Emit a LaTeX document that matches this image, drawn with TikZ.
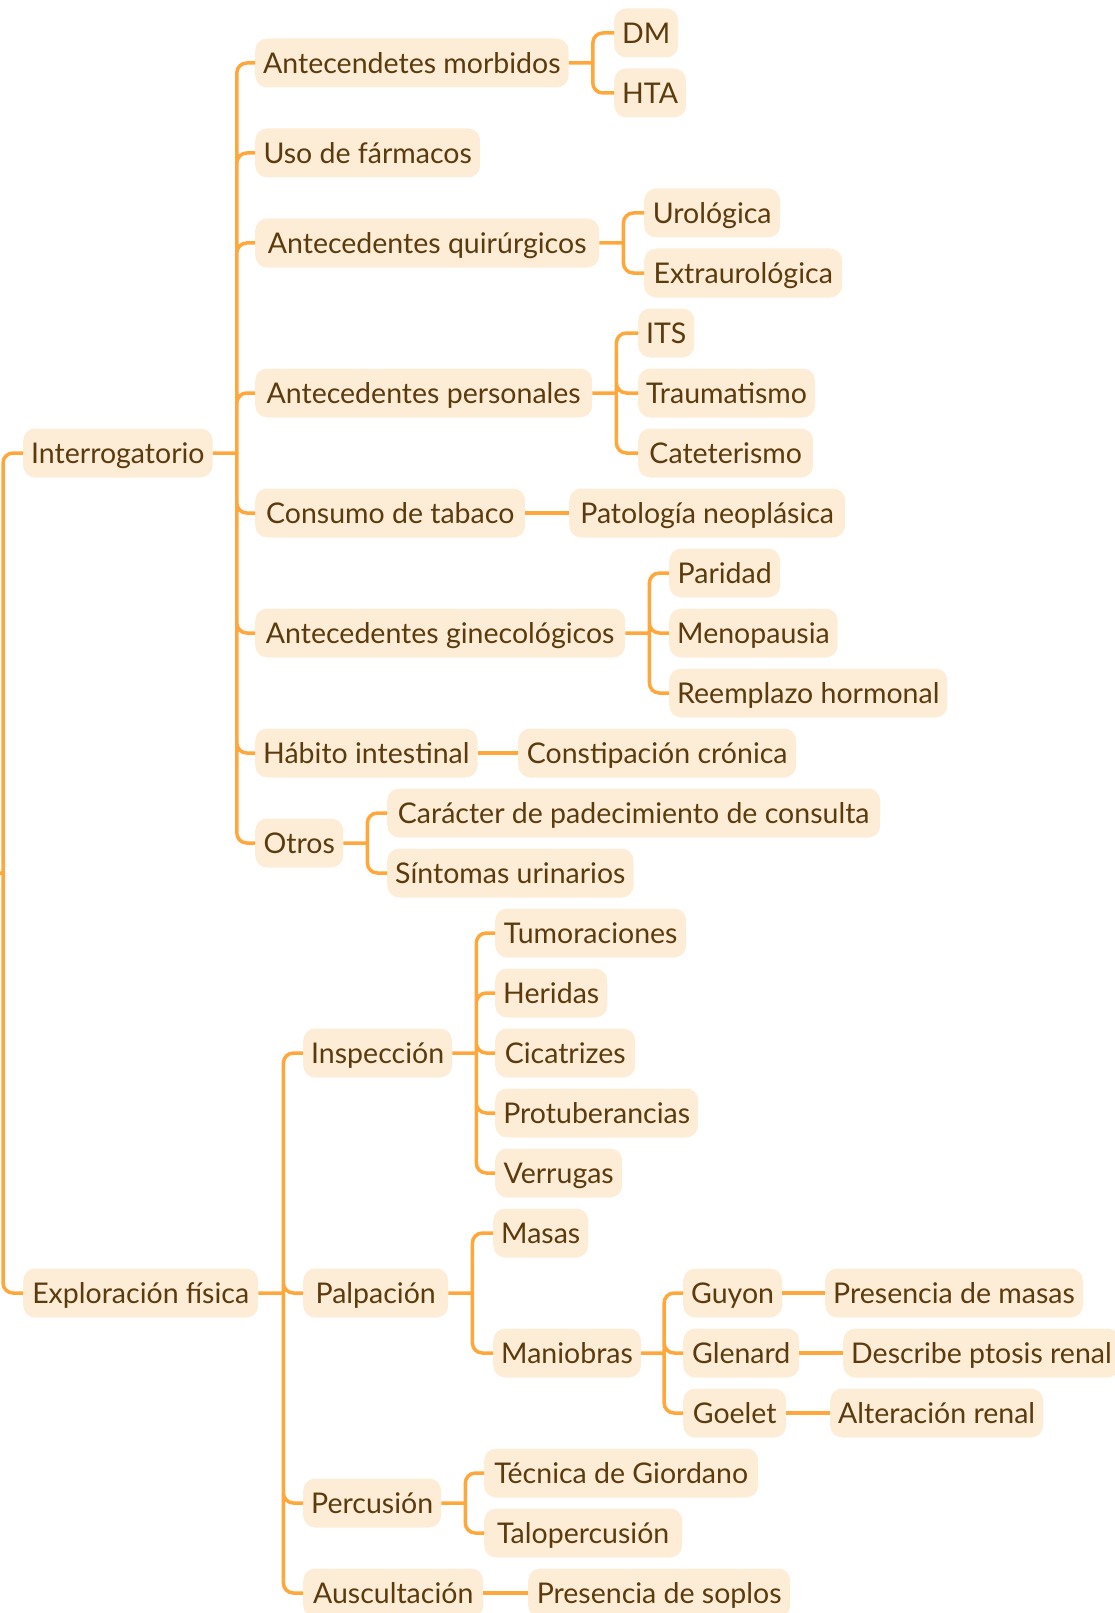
\documentclass[tikz,border=0pt]{standalone}
\usepackage{fontspec}
\setmainfont{Lato}
\definecolor{mapline}{HTML}{FFA73A}
\definecolor{mapfill}{HTML}{FDEDD6}
\definecolor{maptext}{HTML}{5C3A0C}

\begin{document}
\begin{tikzpicture}[x=1pt, y=-1pt,
  topic/.style={anchor=west, fill=mapfill, text=maptext, rounded corners=12pt, minimum height=49pt, inner xsep=8pt, text height=20.5pt, text depth=0pt, font=\fontsize{28.5}{34}\selectfont},
  link/.style={draw=mapline, line width=3.5pt, rounded corners=10pt}]
\useasboundingbox (0,0) rectangle (1114,1613);

\node (int) at (23,453) [topic, minimum width=188pt] {Interrogatorio};
\node (exp) at (23,1293) [topic, minimum width=235pt] {Exploración física};

\node (am) at (255,63) [topic, minimum width=313pt] {Antecendetes morbidos};
\node (dm) at (614,33) [topic, minimum width=57pt] {DM};
\node (hta) at (614,93) [topic, minimum width=66pt] {HTA};
\node (far) at (255,153) [topic, minimum width=225pt] {Uso de fármacos};
\node (aq) at (255,243) [topic, minimum width=344pt] {Antecedentes quirúrgicos};
\node (uro) at (644,213) [topic, minimum width=136pt] {Urológica};
\node (extra) at (644,273) [topic, minimum width=198pt] {Extraurológica};
\node (ap) at (255,393) [topic, minimum width=337pt] {Antecedentes personales};
\node (its) at (638,333) [topic, minimum width=52pt] {ITS};
\node (trau) at (638,393) [topic, minimum width=176pt] {Traumatismo};
\node (cat) at (638,453) [topic, minimum width=175pt] {Cateterismo};
\node (tab) at (255,513) [topic, minimum width=270pt] {Consumo de tabaco};
\node (neo) at (569,513) [topic, minimum width=276pt] {Patología neoplásica};
\node (ag) at (255,633) [topic, minimum width=370pt] {Antecedentes ginecológicos};
\node (par) at (669,573) [topic, minimum width=111pt] {Paridad};
\node (meno) at (669,633) [topic, minimum width=164pt] {Menopausia};
\node (reem) at (669,693) [topic, minimum width=277pt] {Reemplazo hormonal};
\node (hab) at (255,753) [topic, minimum width=217pt] {Hábito intestinal};
\node (cons) at (518,753) [topic, minimum width=278pt] {Constipación crónica};
\node (otr) at (255,843) [topic, minimum width=88pt] {Otros};
\node (car) at (387,813) [topic, minimum width=493pt] {Carácter de padecimiento de consulta};
\node (sint) at (387,873) [topic, minimum width=241pt] {Síntomas urinarios};

\node (insp) at (303,1053) [topic, minimum width=146pt] {Inspección};
\node (tum) at (495,933) [topic, minimum width=191pt] {Tumoraciones};
\node (her) at (495,993) [topic, minimum width=110pt] {Heridas};
\node (cic) at (495,1053) [topic, minimum width=140pt] {Cicatrizes};
\node (prot) at (495,1113) [topic, minimum width=203pt] {Protuberancias};
\node (ver) at (495,1173) [topic, minimum width=127pt] {Verrugas};
\node (palp) at (303,1293) [topic, minimum width=145pt] {Palpación};
\node (mas) at (493,1233) [topic, minimum width=93pt] {Masas};
\node (man) at (493,1353) [topic, minimum width=145pt] {Maniobras};
\node (guy) at (683,1293) [topic, minimum width=97pt] {Guyon};
\node (pmas) at (825,1293) [topic, minimum width=257pt] {Presencia de masas};
\node (gle) at (683,1353) [topic, minimum width=116pt] {Glenard};
\node (ptos) at (843,1353) [topic, minimum width=271pt] {Describe ptosis renal};
\node (goe) at (683,1413) [topic, minimum width=103pt] {Goelet};
\node (alt) at (830,1413) [topic, minimum width=212pt] {Alteración renal};
\node (perc) at (303,1503) [topic, minimum width=137pt] {Percusión};
\node (gio) at (484,1473) [topic, minimum width=274pt] {Técnica de Giordano};
\node (talo) at (484,1533) [topic, minimum width=198pt] {Talopercusión};
\node (aus) at (303,1593) [topic, minimum width=180pt] {Auscultación};
\node (sop) at (528,1593) [topic, minimum width=262pt] {Presencia de soplos};

\coordinate (root) at (-21,873);
\coordinate (root-b) at (3,873);
\draw[link] (root) -- (root-b) (root-b) |- (int.west) (root-b) |- (exp.west);

\coordinate (int-b) at ([xshift=24pt]int.east);
\draw[link] (int.east) -- (int-b) (int-b) |- (am.west) (int-b) |- (far.west) (int-b) |- (aq.west) (int-b) |- (ap.west);
\draw[link] (int-b) |- (tab.west) (int-b) |- (ag.west) (int-b) |- (hab.west) (int-b) |- (otr.west);

\coordinate (am-b) at ([xshift=24pt]am.east);
\draw[link] (am.east) -- (am-b) (am-b) |- (dm.west) (am-b) |- (hta.west);
\coordinate (aq-b) at ([xshift=24pt]aq.east);
\draw[link] (aq.east) -- (aq-b) (aq-b) |- (uro.west) (aq-b) |- (extra.west);
\coordinate (ap-b) at ([xshift=24pt]ap.east);
\draw[link] (ap.east) -- (ap-b) (ap-b) |- (its.west) (ap-b) |- (trau.west) (ap-b) |- (cat.west);
\draw[link] (tab.east) -- (neo.west);
\coordinate (ag-b) at ([xshift=24pt]ag.east);
\draw[link] (ag.east) -- (ag-b) (ag-b) |- (par.west) (ag-b) |- (meno.west) (ag-b) |- (reem.west);
\draw[link] (hab.east) -- (cons.west);
\coordinate (otr-b) at ([xshift=24pt]otr.east);
\draw[link] (otr.east) -- (otr-b) (otr-b) |- (car.west) (otr-b) |- (sint.west);

\coordinate (exp-b) at ([xshift=25pt]exp.east);
\draw[link] (exp.east) -- (exp-b) (exp-b) |- (insp.west) (exp-b) |- (palp.west) (exp-b) |- (perc.west) (exp-b) |- (aus.west);

\coordinate (insp-b) at ([xshift=24pt]insp.east);
\draw[link] (insp.east) -- (insp-b) (insp-b) |- (tum.west) (insp-b) |- (her.west) (insp-b) |- (cic.west) (insp-b) |- (prot.west) (insp-b) |- (ver.west);
\coordinate (palp-b) at ([xshift=24pt]palp.east);
\draw[link] (palp.east) -- (palp-b) (palp-b) |- (mas.west) (palp-b) |- (man.west);
\coordinate (man-b) at ([xshift=23pt]man.east);
\draw[link] (man.east) -- (man-b) (man-b) |- (guy.west) (man-b) |- (gle.west) (man-b) |- (goe.west);
\draw[link] (guy.east) -- (pmas.west);
\draw[link] (gle.east) -- (ptos.west);
\draw[link] (goe.east) -- (alt.west);
\coordinate (perc-b) at ([xshift=24pt]perc.east);
\draw[link] (perc.east) -- (perc-b) (perc-b) |- (gio.west) (perc-b) |- (talo.west);
\draw[link] (aus.east) -- (sop.west);
\end{tikzpicture}
\end{document}
